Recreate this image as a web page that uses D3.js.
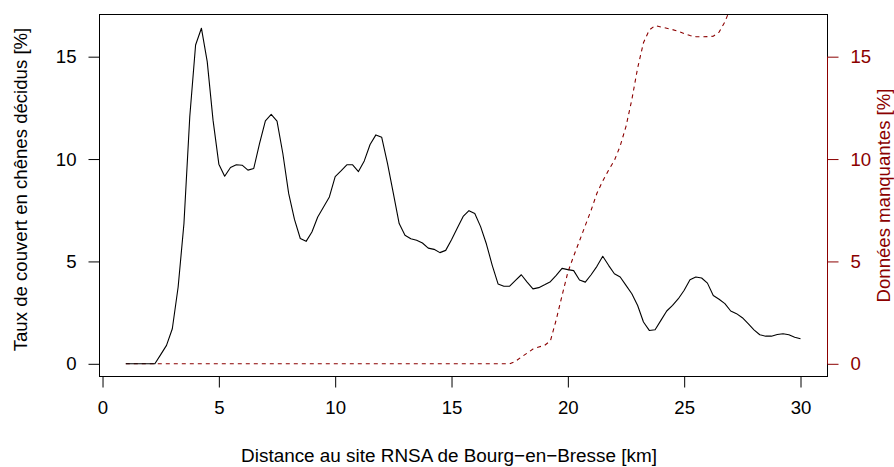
<!DOCTYPE html>
<html>
<head>
<meta charset="utf-8">
<script src="https://cdn.jsdelivr.net/npm/d3@7"></script>
<style>
  body { margin: 0; background: #fff; }
  svg { display: block; font-family: 'Liberation Sans', Arial, sans-serif; }
</style>
</head>
<body>
<div id="chart"></div>
<script>
// distances (km), pas de 0.25 km
const distances = d3.range(1, 30.001, 0.25);

// taux de couvert en chênes décidus [%]
const coverValues = [
  0, 0, 0, 0, 0, 0, 0.45, 0.9, 1.71, 3.75, 6.85, 12.07, 15.57, 16.39, 14.76, 11.9,
  9.75, 9.16, 9.59, 9.72, 9.7, 9.46, 9.54, 10.76, 11.87, 12.18, 11.85, 10.27, 8.32, 7.05, 6.12, 5.98,
  6.44, 7.17, 7.66, 8.15, 9.14, 9.42, 9.72, 9.72, 9.39, 9.91, 10.71, 11.18, 11.06, 9.78, 8.32, 6.85,
  6.28, 6.11, 6.03, 5.9, 5.65, 5.59, 5.43, 5.54, 6.06, 6.63, 7.2, 7.48, 7.34, 6.7, 5.85, 4.81,
  3.9, 3.79, 3.79, 4.07, 4.35, 3.99, 3.66, 3.72, 3.86, 4.01, 4.32, 4.66, 4.6, 4.55, 4.09, 3.99,
  4.35, 4.76, 5.25, 4.81, 4.4, 4.24, 3.83, 3.42, 2.85, 2.04, 1.63, 1.66, 2.12, 2.58, 2.85, 3.18,
  3.59, 4.11, 4.24, 4.19, 3.94, 3.34, 3.15, 2.94, 2.58, 2.45, 2.25, 1.96, 1.66, 1.42, 1.35, 1.35,
  1.43, 1.47, 1.42, 1.3, 1.22
];

// données manquantes [%]
const missingValues = [
  0, 0, 0, 0, 0, 0, 0, 0, 0, 0, 0, 0, 0, 0, 0, 0,
  0, 0, 0, 0, 0, 0, 0, 0, 0, 0, 0, 0, 0, 0, 0, 0,
  0, 0, 0, 0, 0, 0, 0, 0, 0, 0, 0, 0, 0, 0, 0, 0,
  0, 0, 0, 0, 0, 0, 0, 0, 0, 0, 0, 0, 0, 0, 0, 0,
  0, 0, 0, 0.12, 0.33, 0.52, 0.72, 0.82, 0.9, 1.12, 2.15, 3.33, 4.47, 5.26, 6.0, 6.76,
  7.5, 8.33, 8.93, 9.46, 9.93, 10.64, 11.6, 12.9, 14.45, 15.68, 16.3, 16.52, 16.45, 16.39, 16.32, 16.24,
  16.13, 16.03, 15.98, 15.97, 15.98, 16.0, 16.2, 16.7, 17.4, 18.1, 18.6, 19.0, 19.3, 19.5, 19.6, 19.7,
  19.8, 19.9, 20.0, 20.1, 20.2
];

const xTicks = [0, 5, 10, 15, 20, 25, 30];
const yTicks = [0, 5, 10, 15];

const width = 894, height = 467;
const plot = { left: 99.5, right: 827.5, top: 14.5, bottom: 376.5 };
const red = "#8b0000";
const fontSize = "18.6px";

const svg = d3.select("#chart").append("svg")
  .attr("width", width).attr("height", height);

svg.append("rect").attr("width", width).attr("height", height).attr("fill", "#fff");

// échelles
const x = d3.scaleLinear().domain([-0.13, 31.16]).range([plot.left, plot.right]);
const y = d3.scaleLinear().domain([-0.62, 17.06]).range([plot.bottom, plot.top]);

svg.append("clipPath").attr("id", "plot-clip")
  .append("rect")
  .attr("x", plot.left).attr("y", plot.top)
  .attr("width", plot.right - plot.left).attr("height", plot.bottom - plot.top);

// courbe des données manquantes (pointillés rouges)
const missingLine = d3.line().x((d, i) => x(distances[i])).y(d => y(d));
svg.append("path")
  .datum(missingValues)
  .attr("clip-path", "url(#plot-clip)")
  .attr("d", missingLine)
  .attr("fill", "none")
  .attr("stroke", red)
  .attr("stroke-width", 1.1)
  .attr("stroke-dasharray", "4,4");

// courbe du taux de couvert
const coverLine = d3.line().x((d, i) => x(distances[i])).y(d => y(d));
svg.append("path")
  .datum(coverValues)
  .attr("clip-path", "url(#plot-clip)")
  .attr("d", coverLine)
  .attr("fill", "none")
  .attr("stroke", "#000")
  .attr("stroke-width", 1.1)
  .attr("stroke-linejoin", "round");

// cadre
svg.append("rect")
  .attr("x", plot.left).attr("y", plot.top)
  .attr("width", plot.right - plot.left).attr("height", plot.bottom - plot.top)
  .attr("fill", "none").attr("stroke", "#000").attr("stroke-width", 1);

// axe x
const xAxis = svg.append("g")
  .attr("transform", `translate(0,${plot.bottom})`)
  .call(d3.axisBottom(x).tickValues(xTicks).tickSizeOuter(0).tickSizeInner(11).tickPadding(13));
xAxis.select(".domain").attr("d", `M${x(0)},0H${x(30)}`);

// axe y gauche
const yAxisLeft = svg.append("g")
  .attr("transform", `translate(${plot.left},0)`)
  .call(d3.axisLeft(y).tickValues(yTicks).tickSizeOuter(0).tickSizeInner(11).tickPadding(12));
yAxisLeft.select(".domain").attr("d", `M0,${y(0)}V${y(15)}`);

// axe y droit (rouge)
const yAxisRight = svg.append("g")
  .attr("transform", `translate(${plot.right},0)`)
  .call(d3.axisRight(y).tickValues(yTicks).tickSizeOuter(0).tickSizeInner(11).tickPadding(12));
yAxisRight.select(".domain").attr("d", `M0,${y(0)}V${y(15)}`).attr("stroke", red);
yAxisRight.selectAll(".tick line").attr("stroke", red);
yAxisRight.selectAll(".tick text").attr("fill", red);

svg.selectAll(".tick text")
  .style("font-family", "'Liberation Sans', Arial, sans-serif")
  .style("font-size", fontSize);

// titres
svg.append("text")
  .attr("x", 449)
  .attr("y", 462)
  .attr("text-anchor", "middle")
  .style("font-size", "18.9px")
  .text("Distance au site RNSA de Bourg\u2212en\u2212Bresse [km]");

svg.append("text")
  .attr("transform", `translate(27,${(plot.top + plot.bottom) / 2 - 6}) rotate(-90)`)
  .attr("text-anchor", "middle")
  .style("font-size", fontSize)
  .text("Taux de couvert en chênes décidus [%]");

svg.append("text")
  .attr("transform", `translate(890,${(plot.top + plot.bottom) / 2}) rotate(-90)`)
  .attr("text-anchor", "middle")
  .style("font-size", fontSize)
  .attr("fill", red)
  .text("Données manquantes [%]");
</script>
</body>
</html>
